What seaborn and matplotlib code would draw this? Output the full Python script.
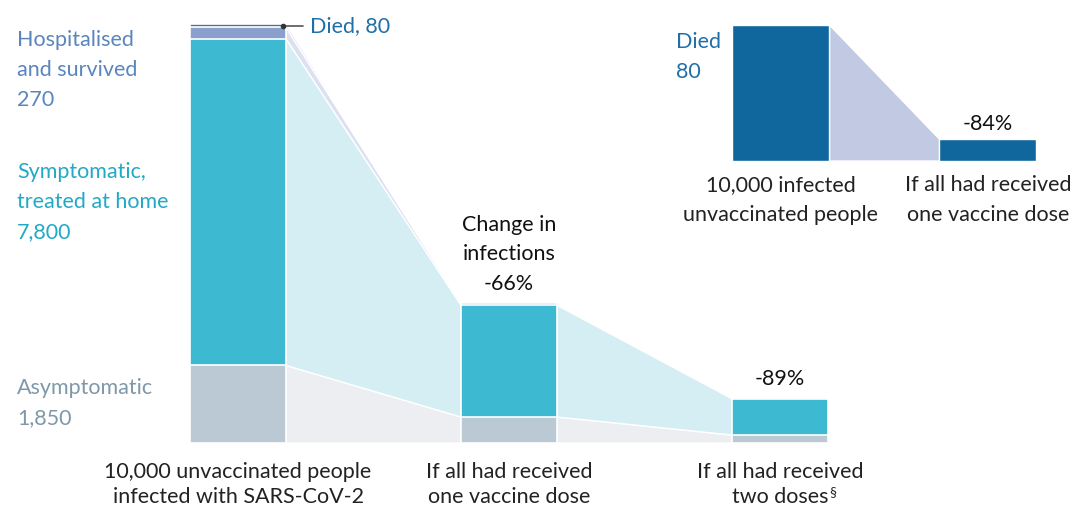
import seaborn as sns
import pandas as pd
import matplotlib.pyplot as plt

# data
cats = ['10,000 unvaccinated people\ninfected with SARS-CoV-2',
        'If all had received\none vaccine dose',
        'If all had received\ntwo doses']
asymptomatic = [1850, 620, 190]
symptomatic = [7800, 2670, 870]
hospitalised = [270, 40, 12]
died = [80, 13, 4]
changes = ['', 'Change in\ninfections\n-66%', '-89%']

inset_cats = ['10,000 infected\nunvaccinated people', 'If all had received\none vaccine dose']
inset_died = [80, 12.8]
inset_change = ['', '-84%']

sns.set_theme(style='white')
plt.rcParams['font.family'] = ['Lato', 'DejaVu Sans']

c_died, c_hosp, c_sym, c_asy = '#4d6ea5', '#8a9fcc', '#3dbad2', '#bac9d3'
l_died, l_hosp, l_sym, l_asy = '#c9d0e6', '#dde0f0', '#d4eef4', '#eceef1'

W, H = 1086, 505
fig = plt.figure(figsize=(W / 100, H / 100), dpi=100)
ax = fig.add_axes([0, 0, 1, 1])

# pixel mapping of the main panel: bar centres 238/509/781, zero at 443, 10000 at 24
x0, dx = 238, 271
y0, dy = 443, 419 / 10000
def py(p):
    return (y0 - p) / dy
def px(p):
    return (p - x0) / dx

df = pd.DataFrame({'cat': cats, 'asy': asymptomatic, 'sym': symptomatic,
                   'hosp': hospitalised, 'died': died})
df['c1'] = df['asy']
df['c2'] = df['c1'] + df['sym']
df['c3'] = df['c2'] + df['hosp']
df['c4'] = df['c3'] + df['died']

bw = 96 / dx
layers = [('c4', c_died), ('c3', c_hosp), ('c2', c_sym), ('c1', c_asy)]
for col, colr in layers:
    sns.barplot(data=df, x='cat', y=col, color=colr, width=bw, saturation=1,
                edgecolor='white', linewidth=1.2, ax=ax, zorder=3)

# connecting bands between bars
bounds = [None, 'c1', 'c2', 'c3', 'c4']
light = [l_asy, l_sym, l_hosp, l_died]
for i in range(len(cats) - 1):
    xa, xb = i + bw / 2, i + 1 - bw / 2
    for k in range(4):
        lo_a = 0 if bounds[k] is None else df[bounds[k]][i]
        lo_b = 0 if bounds[k] is None else df[bounds[k]][i + 1]
        hi_a, hi_b = df[bounds[k + 1]][i], df[bounds[k + 1]][i + 1]
        ax.fill([xa, xa, xb, xb], [lo_a, hi_a, hi_b, lo_b], color=light[k],
                ec='white', lw=1, zorder=1)

ax.set_xlim(-x0 / dx, (W - x0) / dx)
ax.set_ylim(py(H), py(0))
ax.axis('off')

fs = 15.5
ls = 1.6
for i, lab in enumerate(cats):
    for j, line in enumerate(lab.split('\n')):
        t = ax.text(i, py(478 + 25 * j), line, ha='center', va='baseline', fontsize=fs,
                    color='#222222')
    if changes[i]:
        ax.text(i, df['c4'][i] + 9 / dy, changes[i], ha='center', va='bottom',
                fontsize=fs, color='#111111', linespacing=ls)
ax.annotate('§', xy=(1, 1), xycoords=t, xytext=(0.5, 1), textcoords='offset points',
            ha='left', va='top', fontsize=10, color='#222222')

# labels of the segments
ax.text(px(17), py(70), 'Hospitalised\nand survived\n%d' % hospitalised[0], ha='left',
        va='center', fontsize=fs, color='#5a85bd', linespacing=ls)
ax.text(px(17), py(202), 'Symptomatic,\ntreated at home\n{:,}'.format(symptomatic[0]),
        ha='left', va='center', fontsize=fs, color='#22a9c6', linespacing=ls)
ax.text(px(17), py(403), 'Asymptomatic\n{:,}'.format(asymptomatic[0]), ha='left',
        va='center', fontsize=fs, color='#7f98a8', linespacing=ls)
yd = df['c3'][0] + died[0] / 2
ax.plot([bw / 2 - 0.01, px(303)], [yd, yd], color='#555555', lw=1.2, zorder=5)
ax.plot([bw / 2 - 0.01], [yd], 'o', color='#333333', ms=3, zorder=6)
ax.text(px(310), yd, 'Died, %d' % died[0], ha='left', va='center', fontsize=fs,
        color='#1f6fa8')

# inset: deaths only
ax2 = fig.add_axes([0, 0, 1, 1])
ix0, idx = 781, 207
iy0, idy = 161, 136 / 80
ibw = 97 / idx
idf = pd.DataFrame({'cat': inset_cats, 'died': inset_died})
sns.barplot(data=idf, x='cat', y='died', color='#0f679d', width=ibw, saturation=1,
            edgecolor='white', linewidth=1, ax=ax2, zorder=3)
ax2.fill([ibw / 2, ibw / 2, 1 - ibw / 2, 1 - ibw / 2],
         [0, inset_died[0], inset_died[1], 0], color='#c2cae3', ec='white', lw=1, zorder=1)
ax2.set_xlim(-ix0 / idx, (W - ix0) / idx)
ax2.set_ylim(-(H - iy0) / idy, iy0 / idy)
ax2.axis('off')
ax2.patch.set_alpha(0)
for i, lab in enumerate(inset_cats):
    ax2.text(i, -39 / idy, lab, ha='center', va='center', fontsize=fs, color='#222222',
             linespacing=1.65)
    if inset_change[i]:
        ax2.text(i, inset_died[i] + 5 / idy, inset_change[i], ha='center', va='bottom',
                 fontsize=fs, color='#111111')
ax2.text((676 - ix0) / idx, (iy0 - 57) / idy, 'Died\n%d' % inset_died[0], ha='left',
         va='center', fontsize=fs, color='#1f6fa8', linespacing=ls)

fig.savefig('out.png', dpi=100)
